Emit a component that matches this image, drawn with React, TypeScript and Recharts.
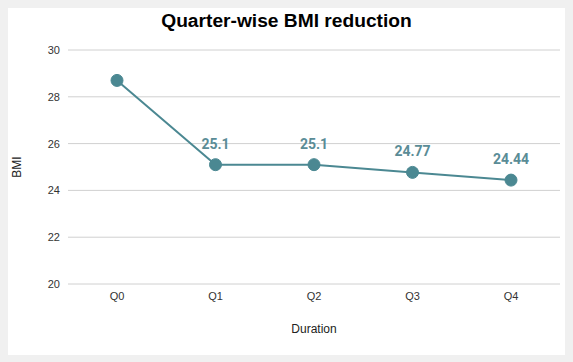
import React from 'react';
import { LineChart, Line, XAxis, YAxis, CartesianGrid, LabelList } from 'recharts';

const quarters = ['Q0', 'Q1', 'Q2', 'Q3', 'Q4'];
const bmiValues = [28.7, 25.1, 25.1, 24.77, 24.44];
const yTicks = [20, 22, 24, 26, 28, 30];

const chartData = quarters.map((q, i) => ({ quarter: q, bmi: bmiValues[i] }));

const LINE_COLOR = '#4b8892';

const PointLabel = (props: any) => {
  const { x, y, value, index } = props;
  if (index === 0) return null;
  return (
    <text
      x={x}
      y={y - 16}
      textAnchor="middle"
      fill="#5a8c96"
      fontFamily="Roboto, sans-serif"
      fontWeight="bold"
      fontSize={14}
    >
      {value}
    </text>
  );
};

const YLabel = (props: any) => {
  const { viewBox } = props;
  const cx = 9;
  const cy = viewBox.y + viewBox.height / 2;
  return (
    <text
      x={cx}
      y={cy}
      transform={`rotate(-90 ${cx} ${cy})`}
      textAnchor="middle"
      dominantBaseline="central"
      fill="#222"
      fontSize={12}
      fontFamily="'Liberation Sans', Arial, sans-serif"
    >
      BMI
    </text>
  );
};

const App: React.FC = () => {
  return (
    <div
      style={{
        position: 'fixed',
        left: 0,
        top: 0,
        width: 573,
        height: 362,
        background: '#f0f0f0',
        fontFamily: "'Liberation Sans', Arial, sans-serif",
      }}
    >
      <div
        style={{
          position: 'absolute',
          left: 8,
          top: 8,
          width: 557,
          height: 347,
          background: '#fff',
        }}
      >
        <div
          style={{
            position: 'absolute',
            left: 0,
            top: 2,
            width: 557,
            textAlign: 'center',
            fontWeight: 'bold',
            fontSize: 19.2,
            color: '#000',
          }}
        >
          Quarter-wise BMI reduction
        </div>
        <LineChart
          width={557}
          height={347}
          data={chartData}
          margin={{ top: 42, right: 5, left: 0, bottom: 0 }}
        >
          <CartesianGrid vertical={false} stroke="#d0d0d0" />
          <XAxis
            dataKey="quarter"
            height={71}
            padding={{ left: 49, right: 49 }}
            axisLine={false}
            tickLine={false}
            tick={{ fill: '#333', fontSize: 11 }}
            label={{ value: 'Duration', position: 'insideBottom', offset: 22, fill: '#222', fontSize: 12 }}
          />
          <YAxis
            width={60}
            domain={[20, 30]}
            ticks={yTicks}
            axisLine={false}
            tickLine={false}
            tick={{ fill: '#333', fontSize: 11 }}
            label={<YLabel />}
          />
          <Line
            type="linear"
            dataKey="bmi"
            stroke={LINE_COLOR}
            strokeWidth={2}
            dot={{ r: 6, fill: LINE_COLOR, stroke: LINE_COLOR, strokeWidth: 1 }}
            isAnimationActive={false}
          >
            <LabelList dataKey="bmi" content={<PointLabel />} />
          </Line>
        </LineChart>
      </div>
    </div>
  );
};

export default App;
